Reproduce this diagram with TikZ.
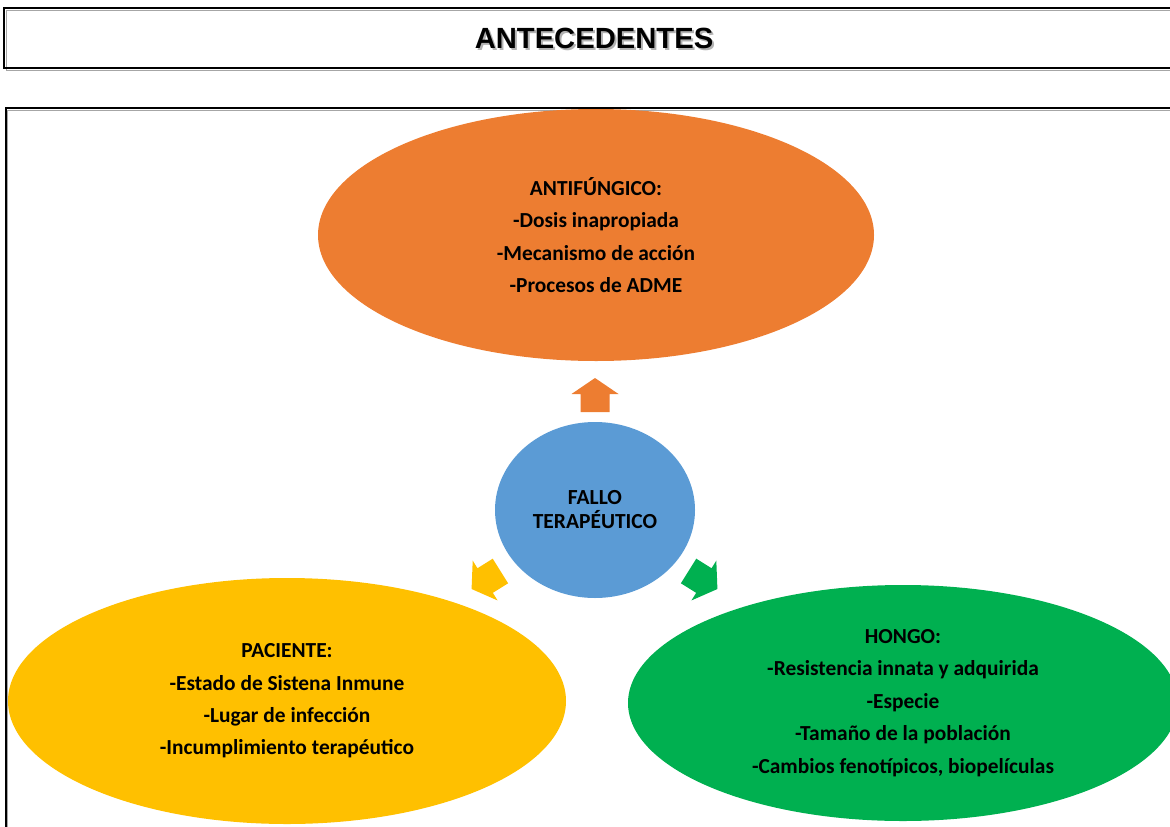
\documentclass[tikz,border=0pt]{standalone}
\usepackage{fontspec}
\setmainfont{Carlito}
\newfontfamily\titlefont{Liberation Sans}
\usetikzlibrary{shapes.geometric}
\definecolor{cOrange}{HTML}{ED7D31}
\definecolor{cBlue}{HTML}{5B9BD5}
\definecolor{cYellow}{HTML}{FFC000}
\definecolor{cGreen}{HTML}{00B050}
\tikzset{
  blob/.style={ellipse, inner sep=0pt, align=center, text=black,
    font=\bfseries\fontsize{21.4}{32.4}\selectfont},
  titletext/.style={font=\titlefont\bfseries\fontsize{29.2}{31}\selectfont, inner sep=0pt},
  blockarrow/.pic={\fill[#1] (0,-17) -- (23.5,-1) -- (14.5,-1) -- (14.5,17) -- (-14.5,17) -- (-14.5,-1) -- (-23.5,-1) -- cycle;}
}
\begin{document}
\begin{tikzpicture}[x=1pt,y=-1pt]
\path[use as bounding box] (0,0) rectangle (1170,827);
\begin{scope}
\clip (0,0) rectangle (1170,827);
% title frame
\draw[gray!70, line width=1pt] (6,10) rectangle (1200,70);
\draw[black, line width=1.2pt] (4,8) rectangle (1198,68);
\node[titletext, text=gray!60] (titleshadow) at (596,40) {ANTECEDENTES};
\node[titletext, text=black] (title) at (594,38) {ANTECEDENTES};
% main frame
\draw[gray!70, line width=1pt] (7,110) rectangle (1200,900);
\draw[black, line width=1.4pt] (6,108) rectangle (1199,899);
% ellipses
\node[blob, fill=cOrange, minimum width=556, minimum height=252] (anti) at (596,235)
  {ANTIFÚNGICO:\\-Dosis inapropiada\\-Mecanismo de acción\\-Procesos de ADME};
\node[blob, fill=cBlue, minimum width=200, minimum height=176,
  font=\bfseries\fontsize{21.5}{24}\selectfont] (fallo) at (595,510)
  {FALLO\\TERAPÉUTICO};
\node[blob, fill=cYellow, minimum width=558, minimum height=246] (pac) at (287,701)
  {PACIENTE:\\-Estado de Sistena Inmune\\-Lugar de infección\\-Incumplimiento terapéutico};
\node[blob, fill=cGreen, minimum width=550, minimum height=236] (hongo) at (903,703)
  {HONGO:\\-Resistencia innata y adquirida\\-Especie\\-Tamaño de la población\\-Cambios fenotípicos, biopelículas};
% block arrows
\pic at (595,395) {blockarrow=cOrange};
\pic[rotate=122] at (486,580) {blockarrow=cYellow};
\pic[rotate=-122] at (703,580) {blockarrow=cGreen};
\end{scope}
\end{tikzpicture}
\end{document}
